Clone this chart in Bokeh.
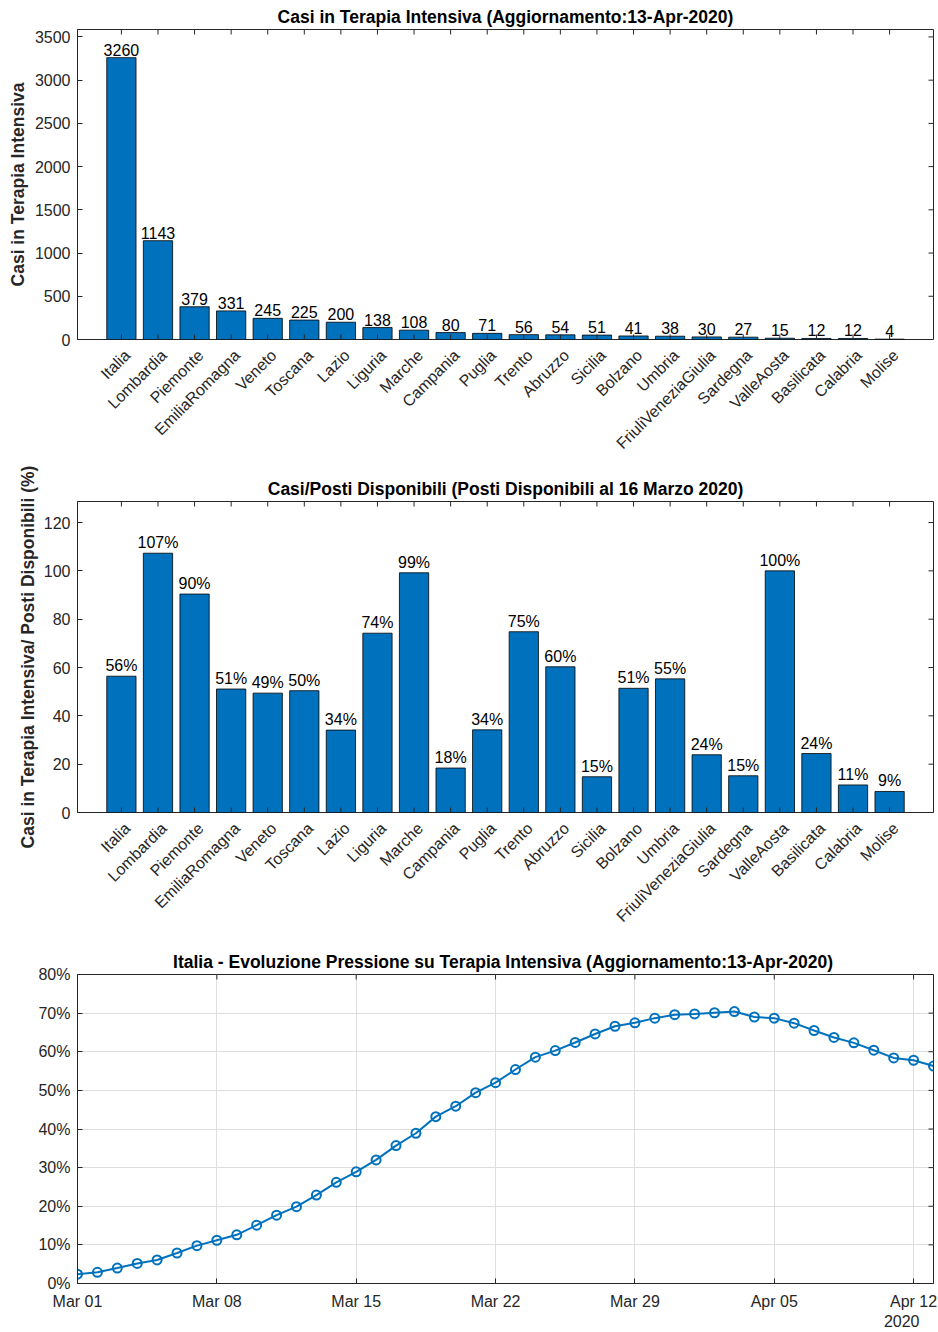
import numpy as np
import pandas as pd
from bokeh.plotting import figure
from bokeh.layouts import column
from bokeh.models import (Range1d, FixedTicker, NumeralTickFormatter, LinearAxis,
                          DatetimeTickFormatter, Title, CustomJSTickFormatter)
from bokeh.embed import file_html
from bokeh.resources import INLINE
from bokeh.core.properties import value

# ---------------- data ----------------
regioni = ["Italia", "Lombardia", "Piemonte", "EmiliaRomagna", "Veneto", "Toscana",
           "Lazio", "Liguria", "Marche", "Campania", "Puglia", "Trento", "Abruzzo",
           "Sicilia", "Bolzano", "Umbria", "FriuliVeneziaGiulia", "Sardegna",
           "ValleAosta", "Basilicata", "Calabria", "Molise"]
casi_ti = [3260, 1143, 379, 331, 245, 225, 200, 138, 108, 80, 71, 56, 54, 51, 41,
           38, 30, 27, 15, 12, 12, 4]
perc_posti = [56.4, 107.3, 90.4, 51.1, 49.4, 50.4, 34.1, 74.2, 99.2, 18.4, 34.2,
              74.8, 60.3, 14.8, 51.4, 55.3, 23.9, 15.2, 100.0, 24.4, 11.4, 8.7]

giorni_start = "2020-03-01"
pressione = [0.024, 0.029, 0.040, 0.052, 0.061, 0.079, 0.098, 0.112, 0.126, 0.151,
             0.177, 0.199, 0.229, 0.262, 0.289, 0.320, 0.357, 0.389, 0.432, 0.459,
             0.494, 0.520, 0.554, 0.586, 0.603, 0.624, 0.646, 0.666, 0.675, 0.687,
             0.696, 0.698, 0.701, 0.704, 0.690, 0.687, 0.674, 0.655, 0.637, 0.623,
             0.604, 0.584, 0.578, 0.563]
giorni = pd.date_range(giorni_start, periods=len(pressione), freq="D")

y1_ticks = [0, 500, 1000, 1500, 2000, 2500, 3000, 3500]
y2_ticks = [0, 20, 40, 60, 80, 100, 120]
y3_ticks = [0.0, 0.1, 0.2, 0.3, 0.4, 0.5, 0.6, 0.7, 0.8]

title1 = "Casi in Terapia Intensiva (Aggiornamento:13-Apr-2020)"
title2 = "Casi/Posti Disponibili (Posti Disponibili al 16 Marzo 2020)"
title3 = "Italia - Evoluzione Pressione su Terapia Intensiva  (Aggiornamento:13-Apr-2020)"
ylab1 = "Casi in Terapia Intensiva"
ylab2 = "Casi in Terapia Intensiva/ Posti Disponibili (%)"

# ---------------- style ----------------
FONT = "Liberation Sans"
AX = "#262626"
BLUE = "#0072BD"
TICK_FS = "16px"
LAB_FS = "17.5px"
FRAME_W = 856
XLIM = (-0.2, 23.2)
LABEL_SHIFT_PX = 6   # rotated category labels sit slightly right of their tick


def style_axis(ax, standoff=7):
    ax.axis_line_color = AX
    ax.major_tick_line_color = AX
    ax.major_tick_in = 5
    ax.major_tick_out = 0
    ax.minor_tick_line_color = None
    ax.major_label_text_font = FONT
    ax.major_label_text_color = AX
    ax.major_label_text_font_size = TICK_FS
    ax.major_label_standoff = standoff


def inner_ticks(p, xticks, yticks, x_end, y_end, y_start=None):
    # tick marks on the box sides without labels (half of each dash is clipped)
    p.scatter(x=list(xticks), y=[y_end] * len(xticks), marker="dash", angle=np.pi / 2,
              size=10, line_color=AX, line_width=1)
    if y_start is not None:
        p.scatter(x=list(xticks), y=[y_start] * len(xticks), marker="dash",
                  angle=np.pi / 2, size=10, line_color=AX, line_width=1)
    p.scatter(x=[x_end] * len(yticks), y=list(yticks), marker="dash",
              size=10, line_color=AX, line_width=1)


def style_fig(p, title):
    p.title.text = title
    p.title.align = "center"
    p.title.text_font = FONT
    p.title.text_font_size = LAB_FS
    p.title.text_font_style = "bold"
    p.title.text_color = "#000000"
    p.title.standoff = 5
    p.outline_line_color = AX
    p.outline_line_width = 1
    p.background_fill_color = "white"
    p.border_fill_color = "white"


def bar_fig(vals, labels, ylim, yticks, title, ylabel, frame_h, top, bottom, lab_standoff):
    xs = list(range(1, len(regioni) + 1))
    p = figure(frame_width=FRAME_W, frame_height=frame_h,
               min_border_left=77, min_border_right=4,
               min_border_top=top, min_border_bottom=bottom,
               x_range=Range1d(*XLIM), y_range=Range1d(0, ylim),
               x_axis_location=None,
               output_backend="svg", toolbar_location=None)
    style_fig(p, title)
    p.xgrid.visible = False
    p.ygrid.visible = False
    p.vbar(x=xs, top=vals, width=0.8, fill_color=BLUE, line_color="#000000",
           line_width=0.8)
    p.text(x=xs, y=vals, text=labels, text_align="center", text_baseline="bottom",
           text_font=value(FONT), text_font_size=TICK_FS, text_color="#000000",
           y_offset=-2)
    inner_ticks(p, xs, yticks, XLIM[1], ylim, y_start=0)
    # category axis: labels only (tick marks drawn above)
    shift = LABEL_SHIFT_PX * (XLIM[1] - XLIM[0]) / FRAME_W
    xax = LinearAxis(ticker=FixedTicker(ticks=[x + shift for x in xs]),
                     formatter=CustomJSTickFormatter(args=dict(names=regioni),
                                                     code="return names[index]"))
    style_axis(xax, standoff=13)
    xax.axis_line_color = None
    xax.major_tick_line_color = None
    xax.major_label_orientation = np.pi / 4
    p.add_layout(xax, "below")
    p.yaxis.ticker = FixedTicker(ticks=yticks)
    for ax in p.yaxis:
        style_axis(ax)
    p.yaxis.axis_label = ylabel
    p.yaxis.axis_label_text_font = FONT
    p.yaxis.axis_label_text_font_size = LAB_FS
    p.yaxis.axis_label_text_font_style = "bold"
    p.yaxis.axis_label_text_color = AX
    p.yaxis.axis_label_standoff = lab_standoff
    return p


p1 = bar_fig(casi_ti, [str(v) for v in casi_ti], 3586, y1_ticks, title1, ylab1,
             310, 29, 123, 4)
p2 = bar_fig(perc_posti, [f"{round(v)}%" for v in perc_posti], 128.7, y2_ticks,
             title2, ylab2, 311, 39, 123, 3)

# ---------------- line chart ----------------
p3 = figure(frame_width=FRAME_W, frame_height=309,
            min_border_left=77, min_border_right=4,
            min_border_top=39, min_border_bottom=49,
            x_axis_type="datetime",
            x_range=Range1d(giorni[0], giorni[-1]), y_range=Range1d(0, 0.8),
            output_backend="svg", toolbar_location=None)
style_fig(p3, title3)
tick_days = giorni[::7]
xt = [d.timestamp() * 1000 for d in tick_days]
p3.xaxis.ticker = FixedTicker(ticks=xt)
p3.xaxis.formatter = DatetimeTickFormatter(days="%b %d", months="%b %d",
                                           hours="%b %d", years="%b %d")
p3.yaxis.ticker = FixedTicker(ticks=y3_ticks)
p3.yaxis.formatter = NumeralTickFormatter(format="0%")
for ax in p3.yaxis:
    style_axis(ax)
for ax in p3.xaxis:
    style_axis(ax, standoff=9)
p3.xgrid.ticker = FixedTicker(ticks=xt)
p3.ygrid.ticker = FixedTicker(ticks=y3_ticks)
for g in (p3.xgrid, p3.ygrid):
    g.grid_line_color = "#dedede"
    g.grid_line_width = 1
p3.line(giorni, pressione, line_color=BLUE, line_width=2)
p3.scatter(giorni, pressione, marker="circle", size=9, fill_color=None,
           line_color=BLUE, line_width=2)
inner_ticks(p3, tick_days, y3_ticks, giorni[-1], 0.8)
yr = Title(text="2020", align="right", offset=14, text_font=FONT,
           text_font_size=TICK_FS, text_font_style="normal", text_color=AX,
           standoff=0)
p3.add_layout(yr, "below")

layout = column(p1, p2, p3, spacing=0)
open("out.html", "w").write(file_html(layout, INLINE))
